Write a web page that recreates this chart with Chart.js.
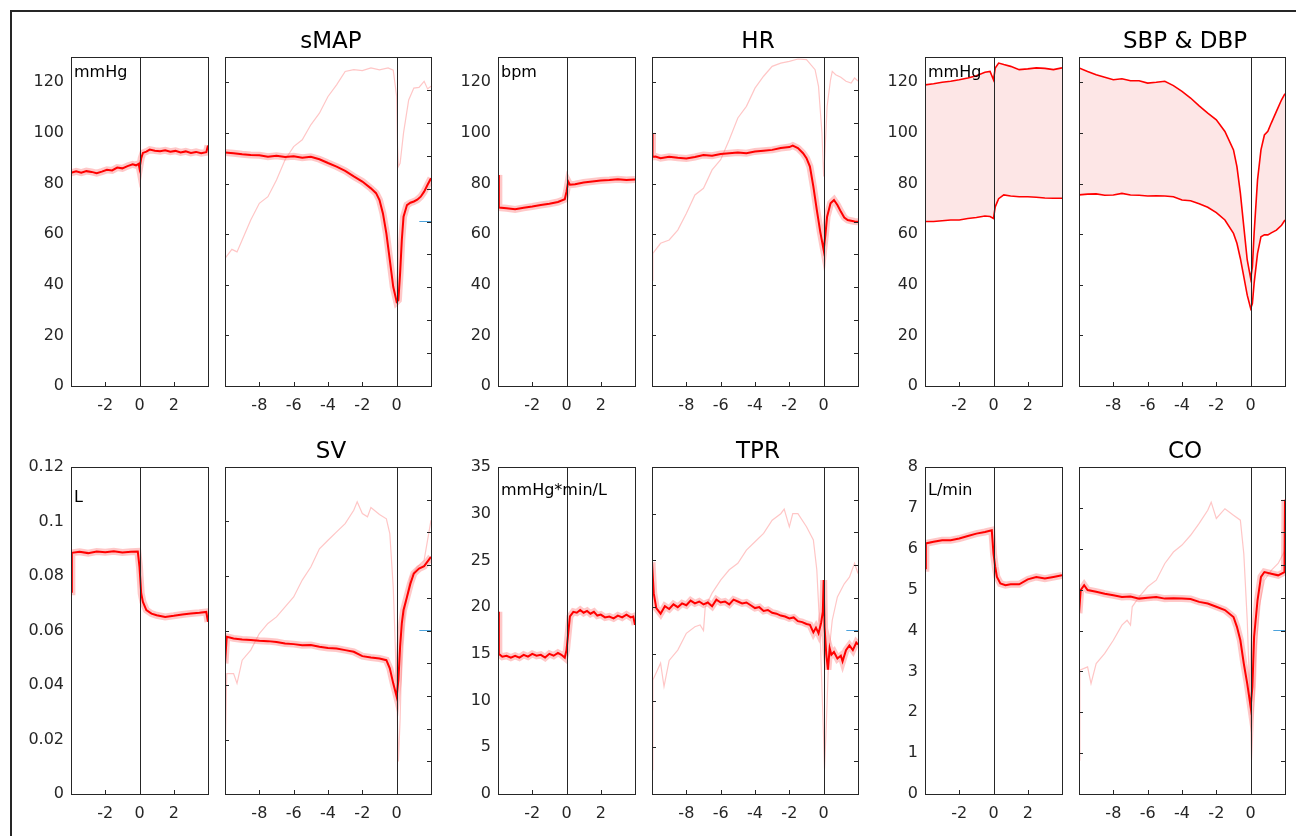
<!DOCTYPE html>
<html>
<head>
<meta charset="utf-8">
<script src="https://cdn.jsdelivr.net/npm/chart.js@4.4.1/dist/chart.umd.min.js"></script>
<style>
body { margin: 0; background: #fff; }
#fig { position: relative; width: 1296px; height: 836px; overflow: hidden; background: #fff; }
#frame { position: absolute; left: 10px; top: 10px; width: 1400px; height: 900px; border: 2px solid #262626; }
canvas { position: absolute; }
</style>
</head>
<body>
<div id="fig"><div id="frame"></div></div>
<script>
// tick labels
const xTicksLeft = [-2, 0, 2];
const xTicksRight = [-8, -6, -4, -2, 0];
const yTicksMmHg = [0, 20, 40, 60, 80, 100, 120];
const yTicksSV = [0, 0.02, 0.04, 0.06, 0.08, 0.1, 0.12];
const yTicksTPR = [0, 5, 10, 15, 20, 25, 30, 35];
const yTicksCO = [0, 1, 2, 3, 4, 5, 6, 7, 8];
const rightTicks = [1, 2, 3, 4, 5, 6, 7, 8, 9];
const markerX = [1.32, 2];
const markerY = [5, 5];

// sMAP
const smapLx = [-4,-3.7,-3.4,-3.1,-2.8,-2.5,-2.2,-1.9,-1.6,-1.3,-1,-0.7,-0.4,-0.2,-0.05,0,0.1,0.2,0.4,0.6,0.9,1.2,1.5,1.8,2.1,2.4,2.7,3,3.3,3.6,3.9,4];
const smapLy = [84.2,84.8,84.3,84.9,84.6,84.1,84.7,85.4,85.2,86.3,86.0,86.9,87.6,87.2,87.8,86.0,90.0,92.1,92.6,93.4,93.0,92.8,93.1,92.6,92.9,92.3,92.7,92.1,92.5,92.0,92.4,95.0];
const smapRx = [-10,-9.5,-9,-8.5,-8,-7.5,-7,-6.5,-6,-5.5,-5,-4.5,-4,-3.5,-3,-2.5,-2,-1.5,-1.2,-1,-0.8,-0.6,-0.4,-0.2,0,0.1,0.2,0.3,0.4,0.6,0.8,1,1.2,1.4,1.6,1.8,2];
const smapRy = [92.3,92.0,91.6,91.3,91.2,90.6,91.0,90.5,90.8,90.2,90.6,89.6,88.1,86.7,85.0,82.8,80.8,78.1,76.2,73.5,68.2,60.3,49.8,39.2,33.3,34.0,44.5,57.7,66.9,71.5,72.4,72.9,73.6,74.8,76.8,79.5,82.1];
const smapFx = [-10,-9.6,-9.3,-9,-8.5,-8,-7.5,-7,-6.5,-6,-5.5,-5,-4.5,-4,-3.5,-3,-2.5,-2,-1.5,-1,-0.5,-0.2,0,0.05,0.1,0.2,0.4,0.7,1,1.3,1.6,1.8,2];
const smapFy = [50.4,54.0,53.0,57.7,65.6,72.2,74.8,81.4,89.4,94.6,97.3,103.2,107.8,114.4,119.0,124.3,125.0,124.6,125.7,124.9,125.7,124.8,114.4,95.0,86.7,88.0,100.0,113.0,117.7,118.0,120.4,117.4,118.5];

// HR
const hrLx = [-4,-3.95,-3.5,-3,-2.5,-2,-1.5,-1,-0.5,-0.1,0,0.1,0.2,0.5,1,1.5,2,2.5,3,3.5,4];
const hrLy = [83.4,70.5,70.2,69.8,70.4,70.9,71.5,72.0,72.7,73.8,76.8,80.8,79.5,79.7,80.4,80.8,81.2,81.4,81.7,81.4,81.6];
const hrRx = [-10,-9.97,-9.8,-9.5,-9,-8.5,-8,-7.5,-7,-6.5,-6,-5.5,-5,-4.5,-4,-3.5,-3,-2.5,-2,-1.8,-1.5,-1.2,-1,-0.8,-0.6,-0.4,-0.2,0,0.1,0.2,0.4,0.6,0.8,1,1.2,1.4,1.6,1.8,2];
const hrRy = [100,90.5,90.7,90.0,90.6,90.2,89.9,90.5,91.3,91.0,91.7,92.0,92.3,92.0,92.7,93.0,93.3,94.0,94.4,95.0,94.0,92.0,90.0,86.7,78.8,69.6,61.0,53.7,59.7,66.9,72.2,73.5,71.5,68.9,66.6,65.6,65.3,65.0,64.9];
const hrFx = [-10,-9.95,-9.5,-9,-8.5,-8,-7.5,-7,-6.5,-6,-5.5,-5,-4.5,-4,-3.5,-3,-2.5,-2,-1.5,-1,-0.5,-0.3,-0.1,0,0.1,0.2,0.4,0.5,0.7,1,1.3,1.6,1.8,2];
const hrFy = [41.8,52.4,56.4,57.7,61.6,68.2,75.5,78.1,85.4,89.4,97.3,105.9,110.5,117.7,122.4,126.3,127.6,128.3,129.2,129.0,125.0,118.4,100.0,82.8,96.0,110.5,121.0,124.3,123.0,122.0,120.4,119.7,121.7,120.5];

// SBP & DBP
const bpLx = [-4,-3.5,-3,-2.5,-2,-1.5,-1,-0.5,-0.2,0,0.1,0.3,0.6,1,1.5,2,2.5,3,3.5,4];
const sbpL = [119.0,119.4,120.0,120.4,121.0,121.7,122.6,124.0,124.3,121.0,125.6,127.6,127.0,126.3,125.0,125.3,125.7,125.5,125.0,125.7];
const dbpL = [65.0,65.0,65.3,65.6,65.6,66.2,66.6,67.2,67.0,66.2,70.8,74.0,75.5,75.1,74.8,74.8,74.6,74.3,74.2,74.2];
const bpRx = [-10,-9.5,-9,-8.5,-8,-7.5,-7,-6.5,-6,-5.5,-5,-4.5,-4,-3.5,-3,-2.5,-2,-1.5,-1,-0.8,-0.6,-0.4,-0.2,0,0.1,0.2,0.4,0.6,0.8,1,1.2,1.5,1.8,2];
const sbpR = [125.7,124.3,123.0,122.0,121.0,121.4,120.6,120.6,119.7,120.0,120.4,118.7,116.4,113.8,110.7,107.8,105.2,100.6,93.3,86.7,76.2,63.0,49.8,42.5,47.1,60.3,81.4,93.3,99.2,100.6,103.9,108.5,113.1,115.5];
const dbpR = [75.5,75.8,75.9,75.4,75.5,76.1,75.5,75.4,75.1,75.2,75.1,74.8,73.5,73.2,72.0,70.6,68.5,65.6,60.3,56.4,50.4,43.2,35.9,30.6,32.6,40.5,52.4,59.0,59.7,59.7,60.5,61.6,63.5,65.6];

// SV
const svLx = [-4,-3.95,-3.5,-3,-2.5,-2,-1.5,-1,-0.5,-0.1,0,0.1,0.2,0.4,0.7,1,1.5,2,2.5,3,3.5,3.9,4];
const svLy = [0.0742,0.0885,0.0889,0.0884,0.0890,0.0887,0.0891,0.0886,0.0889,0.0890,0.0833,0.0736,0.0705,0.0675,0.0662,0.0656,0.0650,0.0654,0.0659,0.0662,0.0665,0.0668,0.0632];
const svRx = [-10,-9.9,-9.5,-9,-8.5,-8,-7.5,-7,-6.5,-6,-5.5,-5,-4.5,-4,-3.5,-3,-2.5,-2,-1.5,-1,-0.6,-0.4,-0.2,0,0.1,0.2,0.3,0.4,0.6,0.8,1,1.3,1.6,2];
const svRy = [0.0479,0.0577,0.0571,0.0567,0.0565,0.0562,0.0561,0.0558,0.0552,0.0550,0.0546,0.0547,0.0540,0.0536,0.0534,0.0528,0.0522,0.0506,0.0501,0.0497,0.0491,0.0461,0.0406,0.0357,0.0418,0.0540,0.0626,0.0675,0.0723,0.0772,0.0809,0.0827,0.0836,0.0870];
const svFx = [-10,-9.9,-9.5,-9.3,-9,-8.5,-8,-7.5,-7,-6.5,-6,-5.5,-5,-4.5,-4,-3.5,-3,-2.5,-2.3,-2,-1.7,-1.5,-1,-0.6,-0.4,-0.2,0,0.1,0.2,0.3,0.5,0.8,1.2,1.6,2];
const svFy = [0.0112,0.0442,0.0442,0.0406,0.0491,0.0528,0.0589,0.0626,0.0650,0.0687,0.0723,0.0785,0.0833,0.0900,0.0931,0.0962,0.0992,0.1041,0.1072,0.1029,0.1017,0.1051,0.1026,0.1010,0.0956,0.0760,0.0393,0.0119,0.0271,0.0516,0.0687,0.0797,0.0833,0.0858,0.1005];

// TPR
const tprLx = [-4,-3.95,-3.75,-3.5,-3.25,-3,-2.75,-2.5,-2.25,-2,-1.75,-1.5,-1.25,-1,-0.75,-0.5,-0.3,-0.1,0,0.1,0.2,0.4,0.6,0.8,1,1.2,1.4,1.6,1.8,2,2.25,2.5,2.75,3,3.25,3.5,3.75,3.9,4];
const tprLy = [19.5,15.0,14.7,14.8,14.6,14.8,14.6,14.9,14.7,15.0,14.8,14.9,14.6,15.0,14.8,15.1,14.9,14.6,15.4,17.2,19.0,19.5,19.4,19.7,19.4,19.6,19.3,19.5,19.1,19.2,18.9,19.0,18.8,19.1,18.9,19.2,18.9,19.0,18.1];
const tprRx = [-10,-9.9,-9.75,-9.5,-9.25,-9,-8.75,-8.5,-8.25,-8,-7.75,-7.5,-7.25,-7,-6.75,-6.5,-6.25,-6,-5.75,-5.5,-5.25,-5,-4.75,-4.5,-4.25,-4,-3.75,-3.5,-3.25,-3,-2.75,-2.5,-2.25,-2,-1.75,-1.5,-1.25,-1,-0.8,-0.6,-0.45,-0.3,-0.15,-0.05,0,0.05,0.15,0.25,0.35,0.45,0.6,0.8,1,1.1,1.3,1.5,1.7,1.9,2];
const tprRy = [24.8,21.5,19.9,19.3,20.1,19.8,20.3,20.0,20.4,20.2,20.7,20.4,20.6,20.3,20.5,20.1,20.8,20.5,20.6,20.3,20.8,20.6,20.4,20.5,20.2,19.9,20.0,19.6,19.7,19.4,19.3,19.1,19.0,18.8,18.9,18.5,18.4,18.2,18.1,17.3,17.8,17.2,18.3,19.5,22.9,17.9,15.0,13.3,15.6,14.9,15.2,14.5,14.8,14.2,15.4,15.9,15.4,16.2,16.0];
const tprFx = [-10,-9.95,-9.5,-9.3,-9,-8.5,-8,-7.5,-7.2,-7,-6.9,-6.5,-6,-5.5,-5,-4.5,-4,-3.5,-3,-2.5,-2.3,-2,-1.8,-1.5,-1,-0.6,-0.4,-0.2,0,0.05,0.15,0.3,0.5,0.8,1.2,1.5,1.8,2];
const tprFy = [2.6,12.2,14.0,11.5,14.3,15.4,17.2,17.9,18.1,17.5,20.0,21.5,22.9,24.0,24.7,26.1,27.0,27.9,29.3,30.0,30.5,28.6,30.0,30.0,28.6,27.2,24.0,16.8,5.8,2.7,7.2,15.0,18.6,21.1,22.5,23.2,24.7,23.6];

// CO
const coLx = [-4,-3.95,-3.5,-3,-2.5,-2,-1.5,-1,-0.5,-0.1,0,0.1,0.2,0.4,0.7,1,1.5,2,2.5,3,3.5,4];
const coLy = [5.52,6.13,6.17,6.21,6.21,6.25,6.31,6.37,6.41,6.45,5.88,5.56,5.31,5.15,5.11,5.13,5.13,5.25,5.31,5.27,5.31,5.35];
const coRx = [-10,-9.9,-9.7,-9.5,-9,-8.5,-8,-7.5,-7,-6.5,-6,-5.5,-5,-4.5,-4,-3.5,-3,-2.5,-2,-1.5,-1,-0.8,-0.6,-0.4,-0.2,0,0.1,0.2,0.4,0.6,0.8,1.2,1.6,1.97,2];
const coRy = [4.42,4.99,5.11,4.99,4.95,4.90,4.86,4.82,4.83,4.78,4.80,4.82,4.78,4.79,4.78,4.77,4.70,4.66,4.58,4.50,4.33,4.09,3.76,3.19,2.70,2.13,2.62,3.85,4.74,5.31,5.43,5.39,5.35,5.43,7.2];
const coFx = [-10,-9.95,-9.5,-9.3,-9,-8.5,-8,-7.5,-7.2,-7,-6.9,-6.5,-6,-5.5,-5,-4.5,-4,-3.5,-3,-2.5,-2.3,-2,-1.5,-1,-0.6,-0.4,-0.2,0,0.05,0.15,0.3,0.5,0.8,1.2,1.6,2];
const coFy = [0.83,3.03,3.11,2.70,3.19,3.44,3.76,4.13,4.25,4.13,4.58,4.82,5.07,5.23,5.64,5.92,6.09,6.33,6.62,6.94,7.14,6.74,6.98,6.82,6.70,5.88,4.25,1.81,0.83,1.81,3.44,4.58,5.23,5.47,5.64,5.96];

const FONT = 'DejaVu Sans';
const AXIS = '#262626';
const AXW = 70, AXH = 36, PADT = 34, PADR = 8;
const fig = document.getElementById('fig');

const pts = (xs, ys) => xs.map((x, i) => ({x: x, y: ys[i]}));

function meanSets(xs, ys) {
  return [
    {data: pts(xs, ys), borderColor: '#ff0000', borderWidth: 2},
    {data: pts(xs, ys), borderColor: 'rgba(255,110,110,0.38)', borderWidth: 7}
  ];
}
function faintSet(xs, ys) {
  return {data: pts(xs, ys), borderColor: '#ffc6c6', borderWidth: 1.2};
}
function markerSet() {
  return {data: pts(markerX, markerY), yAxisID: 'y2', borderColor: '#4da3dc', borderWidth: 1};
}

// box, zero line, inward ticks, title and unit text
const decor = {
  id: 'decor',
  afterDatasetsDraw(chart, args, o) {
    const {ctx, chartArea: a, scales} = chart;
    ctx.save();
    ctx.strokeStyle = AXIS;
    ctx.lineWidth = 1;
    const x0 = Math.round(scales.x.getPixelForValue(0)) + 0.5;
    ctx.beginPath();
    ctx.moveTo(x0, a.top); ctx.lineTo(x0, a.bottom);
    scales.x.ticks.forEach(t => {
      const px = Math.round(scales.x.getPixelForValue(t.value)) + 0.5;
      ctx.moveTo(px, a.bottom); ctx.lineTo(px, a.bottom - 4);
    });
    if (o.leftTicks) {
      scales.y.ticks.forEach(t => {
        const py = Math.round(scales.y.getPixelForValue(t.value)) + 0.5;
        ctx.moveTo(a.left, py); ctx.lineTo(a.left + 4, py);
      });
    }
    if (o.rightTicks) {
      rightTicks.forEach(v => {
        const py = Math.round(scales.y2.getPixelForValue(v)) + 0.5;
        ctx.moveTo(a.right, py); ctx.lineTo(a.right - 4, py);
      });
    }
    ctx.stroke();
    ctx.strokeRect(Math.round(a.left) + 0.5, Math.round(a.top) + 0.5, Math.round(a.right - a.left), Math.round(a.bottom - a.top));
    ctx.fillStyle = '#000';
    ctx.textBaseline = 'alphabetic';
    if (o.unit) {
      ctx.font = '16px "' + FONT + '"';
      ctx.textAlign = 'left';
      ctx.fillText(o.unit, a.left + 3, a.top + o.unitDy);
    }
    if (o.title) {
      ctx.font = '23px "' + FONT + '"';
      ctx.textAlign = 'center';
      ctx.fillText(o.title, (a.left + a.right) / 2 + 3, a.top - 9);
    }
    ctx.restore();
  }
};

function makePanel(p) {
  const cv = document.createElement('canvas');
  cv.width = p.w + AXW + PADR;
  cv.height = p.h + PADT + AXH;
  cv.style.left = (p.left - AXW) + 'px';
  cv.style.top = (p.top - PADT) + 'px';
  fig.appendChild(cv);
  const tickFont = {family: FONT, size: 16};
  new Chart(cv, {
    type: 'line',
    data: {datasets: p.datasets},
    options: {
      responsive: false,
      animation: false,
      events: [],
      layout: {padding: {top: PADT, right: PADR, left: 0, bottom: 0}},
      elements: {point: {radius: 0}, line: {tension: 0, fill: false}},
      plugins: {
        legend: {display: false},
        tooltip: {enabled: false},
        decor: {title: p.title, unit: p.unit, unitDy: p.unitDy, leftTicks: !p.labels, rightTicks: p.rightTicks}
      },
      scales: {
        x: {
          type: 'linear', min: p.xmin, max: p.xmax,
          afterBuildTicks: s => { s.ticks = p.xTicks.map(v => ({value: v})); },
          afterFit: s => { s.height = AXH; },
          grid: {display: false, drawTicks: false}, border: {display: false},
          ticks: {font: tickFont, color: AXIS, padding: 10, maxRotation: 0, autoSkip: false}
        },
        y: {
          type: 'linear', min: p.yTicks[0], max: p.ymax,
          afterBuildTicks: s => { s.ticks = p.yTicks.map(v => ({value: v})); },
          afterFit: s => { s.width = AXW; },
          grid: {display: false, drawTicks: false}, border: {display: false},
          ticks: {display: p.labels, font: tickFont, color: AXIS, padding: 7, autoSkip: false, callback: v => String(v)}
        },
        y2: {type: 'linear', display: false, min: 0, max: 10}
      }
    },
    plugins: [decor]
  });
}

const ROW1 = {top: 57, h: 329};
const ROW2 = {top: 467, h: 327};
const COLS = [71, 225, 498, 652, 925, 1079];
const LW = 137, RW = 206;

function leftPanel(col, row, yTicks, ymax, unit, unitDy, datasets) {
  makePanel({left: COLS[col], top: row.top, w: LW, h: row.h, xmin: -4, xmax: 4, xTicks: xTicksLeft,
    yTicks: yTicks, ymax: ymax, labels: true, unit: unit, unitDy: unitDy, datasets: datasets});
}
function rightPanel(col, row, yTicks, ymax, title, rTicks, datasets) {
  makePanel({left: COLS[col], top: row.top, w: RW, h: row.h, xmin: -10, xmax: 2, xTicks: xTicksRight,
    yTicks: yTicks, ymax: ymax, labels: false, title: title, rightTicks: rTicks, datasets: datasets});
}

leftPanel(0, ROW1, yTicksMmHg, 130, 'mmHg', 20, meanSets(smapLx, smapLy));
rightPanel(1, ROW1, yTicksMmHg, 130, 'sMAP', true,
  [...meanSets(smapRx, smapRy), faintSet(smapFx, smapFy), markerSet()]);

leftPanel(2, ROW1, yTicksMmHg, 130, 'bpm', 20, meanSets(hrLx, hrLy));
rightPanel(3, ROW1, yTicksMmHg, 130, 'HR', true,
  [...meanSets(hrRx, hrRy), faintSet(hrFx, hrFy)]);

const bpFill = '#fde6e6';
leftPanel(4, ROW1, yTicksMmHg, 130, 'mmHg', 20, [
  {data: pts(bpLx, sbpL), borderColor: '#ff0000', borderWidth: 1.6},
  {data: pts(bpLx, dbpL), borderColor: '#ff0000', borderWidth: 1.6, fill: '-1', backgroundColor: bpFill}
]);
rightPanel(5, ROW1, yTicksMmHg, 130, 'SBP & DBP', false, [
  {data: pts(bpRx, sbpR), borderColor: '#ff0000', borderWidth: 1.6},
  {data: pts(bpRx, dbpR), borderColor: '#ff0000', borderWidth: 1.6, fill: '-1', backgroundColor: bpFill}
]);

leftPanel(0, ROW2, yTicksSV, 0.12, 'L', 35, meanSets(svLx, svLy));
rightPanel(1, ROW2, yTicksSV, 0.12, 'SV', true,
  [...meanSets(svRx, svRy), faintSet(svFx, svFy), markerSet()]);

leftPanel(2, ROW2, yTicksTPR, 35, 'mmHg*min/L', 28, meanSets(tprLx, tprLy));
rightPanel(3, ROW2, yTicksTPR, 35, 'TPR', true,
  [...meanSets(tprRx, tprRy), faintSet(tprFx, tprFy), markerSet()]);

leftPanel(4, ROW2, yTicksCO, 8, 'L/min', 28, meanSets(coLx, coLy));
rightPanel(5, ROW2, yTicksCO, 8, 'CO', true,
  [...meanSets(coRx, coRy), faintSet(coFx, coFy), markerSet()]);
</script>
</body>
</html>
